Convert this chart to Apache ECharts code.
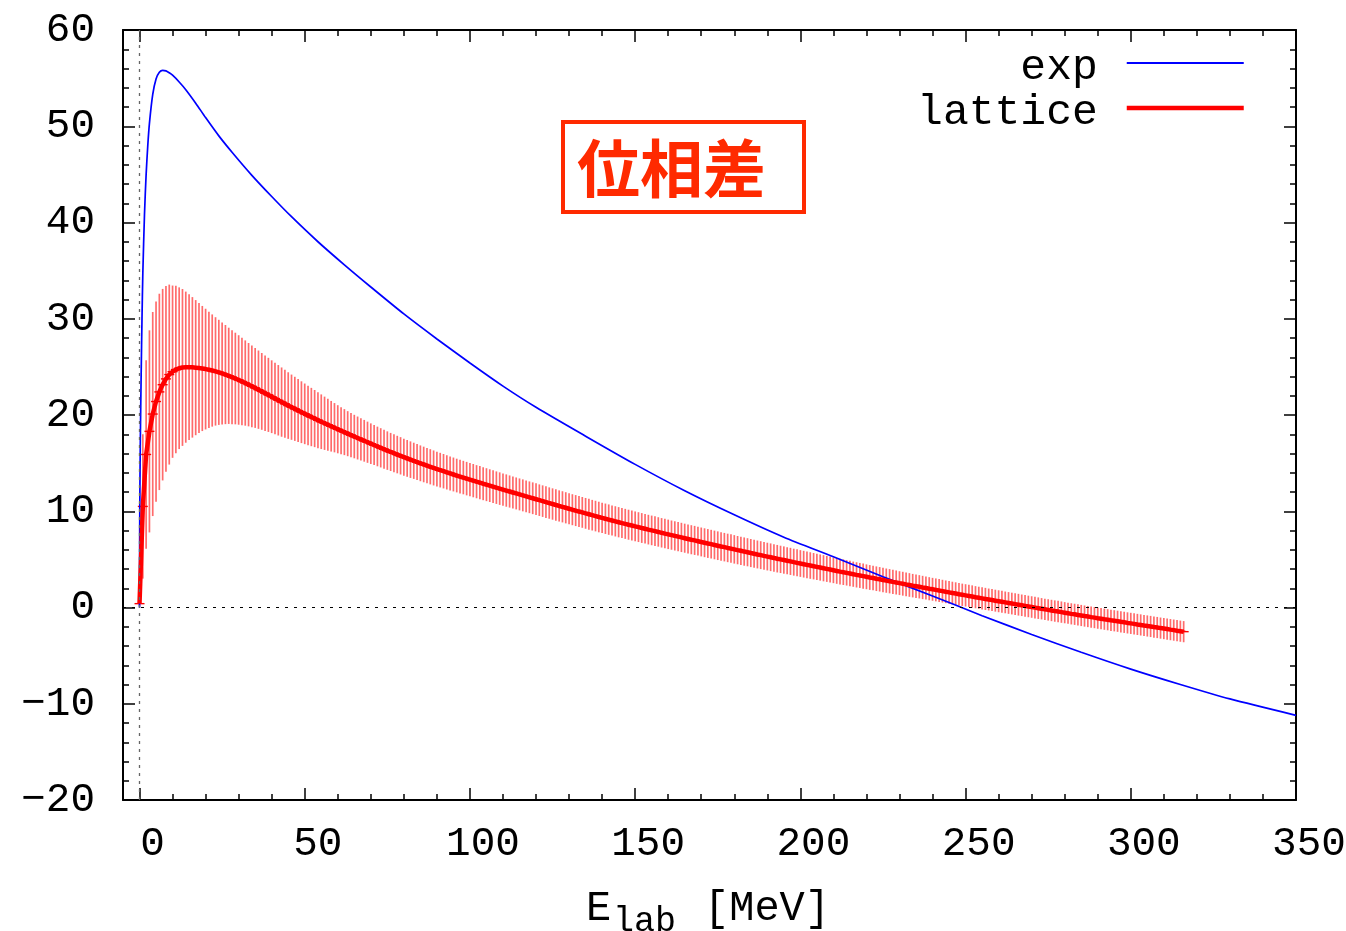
<!DOCTYPE html>
<html>
<head>
<meta charset="utf-8">
<script src="https://cdn.jsdelivr.net/npm/echarts@6/dist/echarts.min.js"></script>
<style>
html,body{margin:0;padding:0;background:#fff;}
#chart{width:1346px;height:931px;}
</style>
</head>
<body>
<div id="chart"></div>
<script>
// ---- data ----
const xTickLabels = [0, 50, 100, 150, 200, 250, 300, 350];
const xMinorTicks = [10,20,30,40,60,70,80,90,110,120,130,140,160,170,180,190,210,220,230,240,260,270,280,290,310,320,330,340];

// experimental phase shift (exp)
const expE = [0, 0.05, 0.12, 0.25, 0.5, 0.75, 1, 1.5, 2, 2.5, 3, 4, 5, 6, 7, 8, 9, 10, 12, 14, 17, 20, 24, 28, 34, 40, 46, 54, 62, 70, 80, 90, 100, 110, 120, 135, 150, 165, 180, 195, 210, 225, 240, 255, 270, 285, 300, 315, 330, 350];
const expV = [0, 8, 12.5, 17.5, 24.3, 30, 34.7, 40.8, 45.0, 48.0, 50.3, 53.3, 54.9, 55.6, 55.8, 55.75, 55.55, 55.3, 54.6, 53.8, 52.4, 50.9, 49.0, 47.3, 44.9, 42.7, 40.6, 38.0, 35.6, 33.3, 30.5, 27.9, 25.4, 23.0, 20.8, 17.8, 14.87, 12.13, 9.63, 7.3, 5.27, 3.2, 1.2, -0.85, -2.8, -4.65, -6.4, -8.0, -9.5, -11.2];

// lattice phase shift: energy, central value, error
const latE = [0,1,2,3,4,5,6,7,8,9,10,11,12,13,14,15,16,17,18,19,20,21,22,23,24,25,26,27,28,29,30,31,32,33,34,35,36,37,38,39,40,41,42,43,44,45,46,47,48,49,50,51,52,53,54,55,56,57,58,59,60,61,62,63,64,65,66,67,68,69,70,71,72,73,74,75,76,77,78,79,80,81,82,83,84,85,86,87,88,89,90,91,92,93,94,95,96,97,98,99,100,101,102,103,104,105,106,107,108,109,110,111,112,113,114,115,116,117,118,119,120,121,122,123,124,125,126,127,128,129,130,131,132,133,134,135,136,137,138,139,140,141,142,143,144,145,146,147,148,149,150,151,152,153,154,155,156,157,158,159,160,161,162,163,164,165,166,167,168,169,170,171,172,173,174,175,176,177,178,179,180,181,182,183,184,185,186,187,188,189,190,191,192,193,194,195,196,197,198,199,200,201,202,203,204,205,206,207,208,209,210,211,212,213,214,215,216,217,218,219,220,221,222,223,224,225,226,227,228,229,230,231,232,233,234,235,236,237,238,239,240,241,242,243,244,245,246,247,248,249,250,251,252,253,254,255,256,257,258,259,260,261,262,263,264,265,266,267,268,269,270,271,272,273,274,275,276,277,278,279,280,281,282,283,284,285,286,287,288,289,290,291,292,293,294,295,296,297,298,299,300,301,302,303,304,305,306,307,308,309,310,311,312,313,314,315,316];
const latV = [0.4,10.5,15.9,18.3,20.1,21.4,22.4,23.15,23.75,24.2,24.5,24.72,24.86,24.94,24.97,24.97,24.95,24.92,24.88,24.83,24.77,24.70,24.62,24.53,24.43,24.32,24.20,24.07,23.93,23.79,23.64,23.48,23.32,23.15,22.98,22.81,22.63,22.45,22.27,22.09,21.90,21.71,21.53,21.34,21.16,20.98,
20.81,20.64,20.46,20.29,20.12,19.96,19.79,19.63,19.46,19.30,19.14,18.99,18.83,18.68,18.52,18.37,18.22,18.06,17.91,17.76,17.61,17.46,17.32,17.17,17.02,16.88,16.73,16.59,16.44,16.30,16.16,16.03,15.89,15.76,15.62,15.49,15.36,15.24,15.11,14.98,14.86,14.74,14.62,14.50,14.38,14.27,14.16,14.04,13.93,13.82,13.71,13.60,13.50,13.39,13.28,
13.18,13.07,12.97,12.86,12.76,12.66,12.56,12.45,12.35,12.25,12.15,12.05,11.95,11.85,11.75,11.65,11.55,11.45,11.35,11.25,11.15,11.05,10.95,10.85,10.75,10.65,10.55,10.46,10.36,10.26,10.16,10.07,9.97,9.88,9.78,9.69,9.59,9.50,9.40,9.31,9.22,9.13,9.04,8.95,8.86,8.77,8.69,8.60,8.52,8.43,
8.35,8.26,8.18,8.09,8.01,7.93,7.85,7.76,7.68,7.60,7.52,7.44,7.36,7.28,7.20,7.12,7.04,6.97,6.89,6.81,6.73,6.65,6.58,6.50,6.42,6.34,6.27,6.19,6.12,6.04,5.96,5.89,5.81,5.74,5.66,5.59,5.51,5.44,5.36,5.29,5.22,5.15,5.07,5.00,4.93,4.86,4.79,4.71,4.64,4.57,
4.50,4.43,4.36,4.29,4.22,4.15,4.08,4.01,3.94,3.87,3.80,3.73,3.67,3.60,3.53,3.46,3.39,3.33,3.26,3.19,3.12,3.06,2.99,2.93,2.86,2.79,2.73,2.66,2.60,2.53,2.47,2.40,2.34,2.27,2.21,2.15,2.08,2.02,1.95,1.89,1.83,1.76,1.70,1.63,1.57,1.51,1.45,1.38,1.32,1.26,
1.20,1.14,1.07,1.01,0.95,0.89,0.83,0.77,0.71,0.65,0.59,0.53,0.47,0.41,0.35,0.29,0.23,0.17,0.11,0.05,-0.01,-0.07,-0.13,-0.19,-0.25,-0.31,-0.37,-0.42,-0.48,-0.54,-0.60,-0.66,-0.71,-0.77,-0.83,-0.89,-0.94,-1.00,-1.05,-1.11,-1.16,-1.22,-1.27,-1.33,-1.38,-1.43,-1.49,-1.54,-1.60,-1.65,
-1.70,-1.76,-1.81,-1.87,-1.92,-1.97,-2.03,-2.08,-2.14,-2.19,-2.24,-2.30,-2.35,-2.41,-2.46,-2.51];
const latErr = [0.2,7.5,9.8,10.5,10.6,10.4,10.2,9.95,9.65,9.35,8.95,8.7,8.4,8.15,7.85,7.58,7.3,7.02,6.76,6.5,6.27,6.04,5.83,5.63,5.46,5.3,5.15,5.0,4.88,4.76,4.65,4.54,4.43,4.33,4.24,4.15,4.07,3.99,3.92,3.85,3.78,3.72,3.66,3.60,3.53,3.46,3.39,3.33,3.27,3.21,3.15,
3.09,3.03,2.97,2.91,2.84,2.77,2.70,2.63,2.56,2.50,2.44,2.39,2.34,2.30,2.26,2.23,2.20,2.17,2.14,2.11,2.08,2.06,2.04,2.02,2.00,1.98,1.97,1.95,1.94,1.92,1.91,1.90,1.88,1.87,1.86,1.85,1.84,1.83,1.82,1.81,1.80,1.79,1.78,1.77,1.76,1.75,1.75,1.74,1.74,1.73,
1.73,1.72,1.72,1.71,1.71,1.70,1.70,1.69,1.69,1.68,1.68,1.67,1.67,1.66,1.66,1.66,1.65,1.65,1.65,1.65,1.64,1.64,1.64,1.63,1.63,1.63,1.62,1.62,1.62,1.62,1.61,1.61,1.61,1.60,1.60,1.60,1.59,1.59,1.59,1.58,1.58,1.58,1.57,1.57,1.57,1.56,1.56,1.56,1.55,1.55,
1.55,1.55,1.54,1.54,1.54,1.54,1.53,1.53,1.53,1.53,1.52,1.52,1.52,1.52,1.51,1.51,1.51,1.51,1.50,1.50,1.50,1.50,1.49,1.49,1.49,1.49,1.48,1.48,1.48,1.48,1.47,1.47,1.47,1.46,1.46,1.46,1.45,1.45,1.45,1.44,1.44,1.43,1.43,1.42,1.42,1.41,1.41,1.40,1.40,1.39,
1.39,1.38,1.38,1.37,1.37,1.36,1.36,1.35,1.35,1.34,1.34,1.33,1.33,1.32,1.32,1.31,1.31,1.30,1.30,1.29,1.29,1.28,1.28,1.27,1.27,1.26,1.26,1.25,1.25,1.24,1.24,1.23,1.23,1.22,1.22,1.21,1.21,1.20,1.20,1.19,1.19,1.19,1.18,1.18,1.18,1.17,1.17,1.17,1.16,1.16,
1.16,1.16,1.15,1.15,1.15,1.15,1.14,1.14,1.14,1.14,1.14,1.13,1.13,1.13,1.13,1.13,1.12,1.12,1.12,1.12,1.12,1.12,1.11,1.11,1.11,1.11,1.11,1.11,1.11,1.10,1.10,1.10,1.10,1.10,1.10,1.10,1.10,1.10,1.10,1.10,1.10,1.10,1.10,1.10,1.10,1.10,1.10,1.10,1.10,1.10,
1.10,1.10,1.10,1.10,1.10,1.10,1.10,1.10,1.10,1.10,1.10,1.10,1.10,1.10,1.10,1.10];

// ---- chart ----
const MONO = '"Liberation Mono", "DejaVu Sans Mono", monospace';
const chart = echarts.init(document.getElementById('chart'), null, {renderer: 'canvas'});

const expData = expE.map((e, i) => [e, expV[i]]);
const latLine = latE.map((e, i) => [e, latV[i]]);
const latBars = latE.map((e, i) => [e, latV[i], latErr[i]]);
const fmtMinus = v => String(v).replace('-', '\u2212');

const axisLineStyle = {color: '#000', width: 2};
function xAx(pos, major, labels) {
  return {
    type: 'value', position: pos, min: -5, max: 350,
    axisLine: {show: major, onZero: false, lineStyle: axisLineStyle},
    axisTick: {show: true, inside: true, length: major ? 12 : 6,
      customValues: major ? xTickLabels : xMinorTicks,
      lineStyle: {color: '#000', width: 1.5}},
    axisLabel: labels ? {show: true, customValues: xTickLabels, fontFamily: MONO, fontSize: 41,
      color: '#000', margin: 24, padding: [0, 0, 0, 26]} : {show: false},
    splitLine: {show: false}
  };
}
function yAx(pos, labels) {
  return {
    type: 'value', position: pos, min: -20, max: 60, interval: 10,
    axisLine: {show: true, onZero: false, lineStyle: axisLineStyle},
    axisTick: {show: true, inside: true, length: 12, lineStyle: {color: '#000', width: 1.5}},
    minorTick: {show: true, splitNumber: 5, length: 6, lineStyle: {color: '#000', width: 1.5}},
    axisLabel: labels ? {show: true, fontFamily: MONO, fontSize: 41, color: '#000', margin: 28,
      formatter: fmtMinus} : {show: false},
    splitLine: {show: false}, minorSplitLine: {show: false}
  };
}

const option = {
  animation: false,
  backgroundColor: '#fff',
  grid: {left: 123, right: 50, top: 30, bottom: 131, containLabel: false, outerBoundsMode: 'none'},
  xAxis: [xAx('bottom', true, true), xAx('bottom', false, false), xAx('top', true, false), xAx('top', false, false)],
  yAxis: [yAx('left', true), yAx('right', false)],
  legend: {
    orient: 'vertical', align: 'right', right: 95, top: 32,
    itemWidth: 117, itemHeight: 14, itemGap: -7,
    itemStyle: {opacity: 0},
    formatter: '{t|{name}}',
    data: [
      {name: 'exp', itemStyle: {opacity: 0}, lineStyle: {width: 1.8, color: '#0000ff'}},
      {name: 'lattice', itemStyle: {opacity: 0}, lineStyle: {width: 4.5, color: '#ff0000'}}
    ],
    textStyle: {fontFamily: MONO, fontSize: 43, color: '#000',
      width: 184, align: 'right', padding: [0, 24, 0, 0],
      rich: {t: {fontFamily: MONO, fontSize: 43, color: '#000', lineHeight: 35, padding: [9, 0, 0, 0]}}}
  },
  graphic: [
    {type: 'rect', shape: {x: 563, y: 122, width: 241, height: 90},
      style: {fill: 'none', stroke: '#ff2a00', lineWidth: 4}},
    {type: 'text', x: 577, y: 168, style: {text: '位相差', fill: '#ff2a00',
      font: 'bold 63px "Noto Sans CJK JP"', textAlign: 'left', textVerticalAlign: 'middle'}},
    {type: 'text', x: 586, y: 909, style: {text: 'E', fill: '#000',
      font: '42px ' + MONO, textAlign: 'left', textVerticalAlign: 'middle'}},
    {type: 'text', x: 613, y: 922, style: {text: 'lab', fill: '#000',
      font: '35px ' + MONO, textAlign: 'left', textVerticalAlign: 'middle'}},
    {type: 'text', x: 704, y: 909, style: {text: '[MeV]', fill: '#000',
      font: '42px ' + MONO, textAlign: 'left', textVerticalAlign: 'middle'}}
  ],
  series: [
    {
      type: 'custom', name: 'lattice-err', xAxisIndex: 0, yAxisIndex: 0,
      data: latBars, encode: {x: 0, y: 1}, clip: true, silent: true, z: 2,
      renderItem: function (params, api) {
        const x = api.value(0), c = api.value(1), e = api.value(2);
        const top = api.coord([x, c + e]);
        const bot = api.coord([x, c - e]);
        const mid = api.coord([x, c]);
        return {type: 'group', children: [
          {type: 'line', shape: {x1: top[0], y1: top[1], x2: bot[0], y2: bot[1]},
            style: {stroke: 'rgba(255,0,0,0.58)', lineWidth: 1.7}},
          {type: 'line', shape: {x1: mid[0] - 5, y1: mid[1], x2: mid[0] + 5, y2: mid[1]},
            style: {stroke: '#ff0000', lineWidth: 1.4}}
        ]};
      }
    },
    {
      type: 'line', name: 'exp', xAxisIndex: 0, yAxisIndex: 0, data: expData,
      symbol: 'none', smooth: 0.25, z: 3, color: '#0000ff',
      lineStyle: {color: '#0000ff', width: 1.7},
      markLine: {
        silent: true, symbol: 'none', label: {show: false}, animation: false,
        data: [
          {xAxis: 0, lineStyle: {color: '#666', width: 1.3, type: [3, 5]}},
          {yAxis: 0, lineStyle: {color: '#000', width: 1, type: [3, 6]}}
        ]
      }
    },
    {
      type: 'line', name: 'lattice', xAxisIndex: 0, yAxisIndex: 0, data: latLine,
      symbol: 'none', smooth: false, z: 4, color: '#ff0000',
      lineStyle: {color: '#ff0000', width: 4.5}
    }
  ]
};
chart.setOption(option);
</script>
</body>
</html>
